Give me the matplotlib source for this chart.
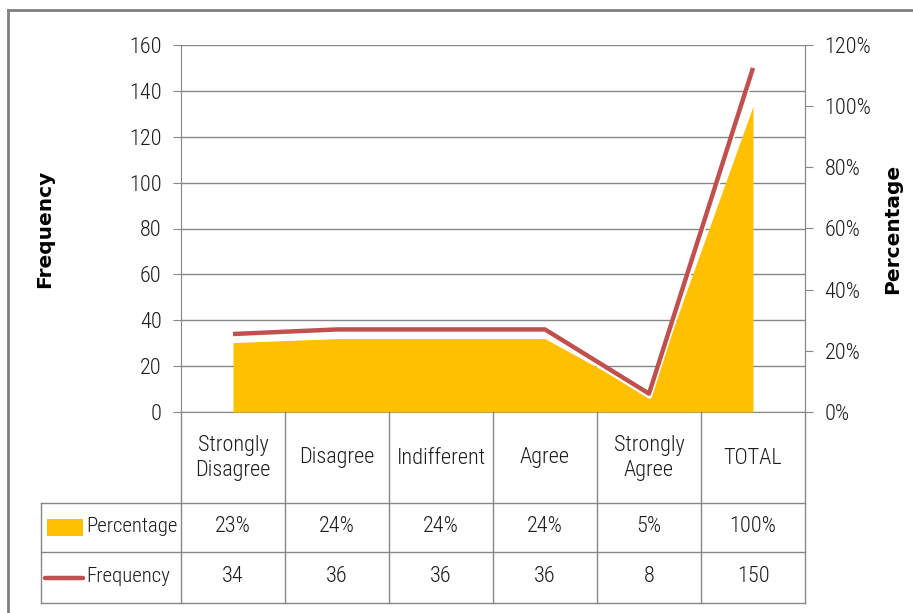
import matplotlib
matplotlib.use("Agg")
import matplotlib.pyplot as plt
import matplotlib.patheffects as pe
from matplotlib import font_manager
from matplotlib.lines import Line2D
from matplotlib.ticker import FuncFormatter

categories = ["Strongly\nDisagree", "Disagree", "Indifferent", "Agree", "Strongly\nAgree", "TOTAL"]
frequency = [34, 36, 36, 36, 8, 150]
percentage = [0.227, 0.24, 0.24, 0.24, 0.053, 1.00]
pct_labels = ["23%", "24%", "24%", "24%", "5%", "100%"]

GOLD = "#FFC000"
RED = "#C0504D"
GRID = "#878787"
TXT = "#1c1c1c"


def pick_font(names):
    for n in names:
        try:
            font_manager.findfont(n, fallback_to_default=False)
            return n
        except Exception:
            pass
    return "DejaVu Sans"


narrow = pick_font(["Liberation Sans Narrow", "Roboto Condensed", "Liberation Sans"])
plt.rcParams["font.family"] = [narrow, "DejaVu Sans"]
plt.rcParams["font.weight"] = "light"
FS = 16

W, H = 913, 613
fig = plt.figure(figsize=(W / 100, H / 100), dpi=100)

# plot area in pixels
L, R, T, B = 181, 805, 45, 412
ax = fig.add_axes([L / W, (H - B) / H, (R - L) / W, (B - T) / H])
x = list(range(len(categories)))
ax.set_xlim(-0.5, len(categories) - 0.5)
ax.set_ylim(0, 160)
ax.set_yticks(range(0, 161, 20))
ax.grid(axis="y", color=GRID, lw=1)
ax.set_axisbelow(True)
ax.set_xticks([])
ax.spines["top"].set_visible(False)
for s in ["left", "right", "bottom"]:
    ax.spines[s].set_color(GRID)
ax.tick_params(axis="y", direction="out", length=6, color=GRID, labelsize=FS, labelcolor=TXT, pad=8)
ax.set_ylabel("Frequency", family="DejaVu Sans", fontweight="bold", fontsize=14.5, va="center")
ax.yaxis.set_label_coords((45 - L) / (R - L), 0.5)

# percentage area (right axis)
ax2 = ax.twinx()
ax2.set_ylim(0, 1.2)
ax2.set_yticks([i * 0.2 for i in range(7)])
ax2.yaxis.set_major_formatter(FuncFormatter(lambda v, p: f"{v * 100:.0f}%"))
ax2.fill_between(x, percentage, 0, color=GOLD, lw=0)
ax2.tick_params(axis="y", direction="out", length=6, color=GRID, labelsize=FS, labelcolor=TXT, pad=8)
for s in ["top", "left", "bottom"]:
    ax2.spines[s].set_visible(False)
ax2.spines["right"].set_color(GRID)
ax2.set_ylabel("Percentage", family="DejaVu Sans", fontweight="bold", fontsize=14.5, va="center")
ax2.yaxis.set_label_coords((893 - L) / (R - L), 0.5)

# frequency line on its own layer above the area
ax3 = ax.twinx()
ax3.set_ylim(0, 160)
ax3.axis("off")
ax3.plot(x, frequency, color=RED, lw=3.2, solid_capstyle="butt",
         path_effects=[pe.SimpleLineShadow(offset=(0.5, -2.2), shadow_color="white", alpha=1, rho=1),
                       pe.Normal()])

# data table below the plot
tab = fig.add_axes([L / W, (H - 603) / H, (R - L) / W, (603 - B) / H], sharex=ax)
tab.set_ylim(0, 191)
tab.axis("off")
left_edge = -0.5 - (L - 41) / ((R - L) / len(categories))
kw = dict(color=GRID, lw=1, clip_on=False)
for i in range(len(categories) + 1):
    tab.plot([i - 0.5, i - 0.5], [0, 191], **kw)
for yy in [0, 51, 100]:
    tab.plot([left_edge, len(categories) - 0.5], [yy, yy], **kw)
tab.plot([left_edge, left_edge], [0, 100], **kw)

for i, c in enumerate(categories):
    tab.text(i, 145, c, ha="center", va="center", fontsize=FS, color=TXT, linespacing=1.2)
    tab.text(i, 76, pct_labels[i], ha="center", va="center", fontsize=FS, color=TXT)
    tab.text(i, 26, str(frequency[i]), ha="center", va="center", fontsize=FS, color=TXT)

# legend keys in the table's first column
px = (R - L) / len(categories)
kx0 = left_edge + 6 / px
kx1 = left_edge + 42 / px
tab.fill_between([kx0, kx1], 67, 84, color=GOLD, lw=0, clip_on=False)
tab.plot([left_edge + 4 / px, kx1], [25, 25], color=RED, lw=3.2, clip_on=False, solid_capstyle="round")
tab.text(left_edge + 45 / px, 76, "Percentage", ha="left", va="center", fontsize=15, color=TXT)
tab.text(left_edge + 45 / px, 26, "Frequency", ha="left", va="center", fontsize=15, color=TXT)

# outer chart frame
fig.add_artist(Line2D([8 / W, 8 / W], [0, 1 - 10 / H], color="#808080", lw=2))
fig.add_artist(Line2D([8 / W, 1], [1 - 10 / H, 1 - 10 / H], color="#808080", lw=2))

fig.savefig("out.png", dpi=100)
